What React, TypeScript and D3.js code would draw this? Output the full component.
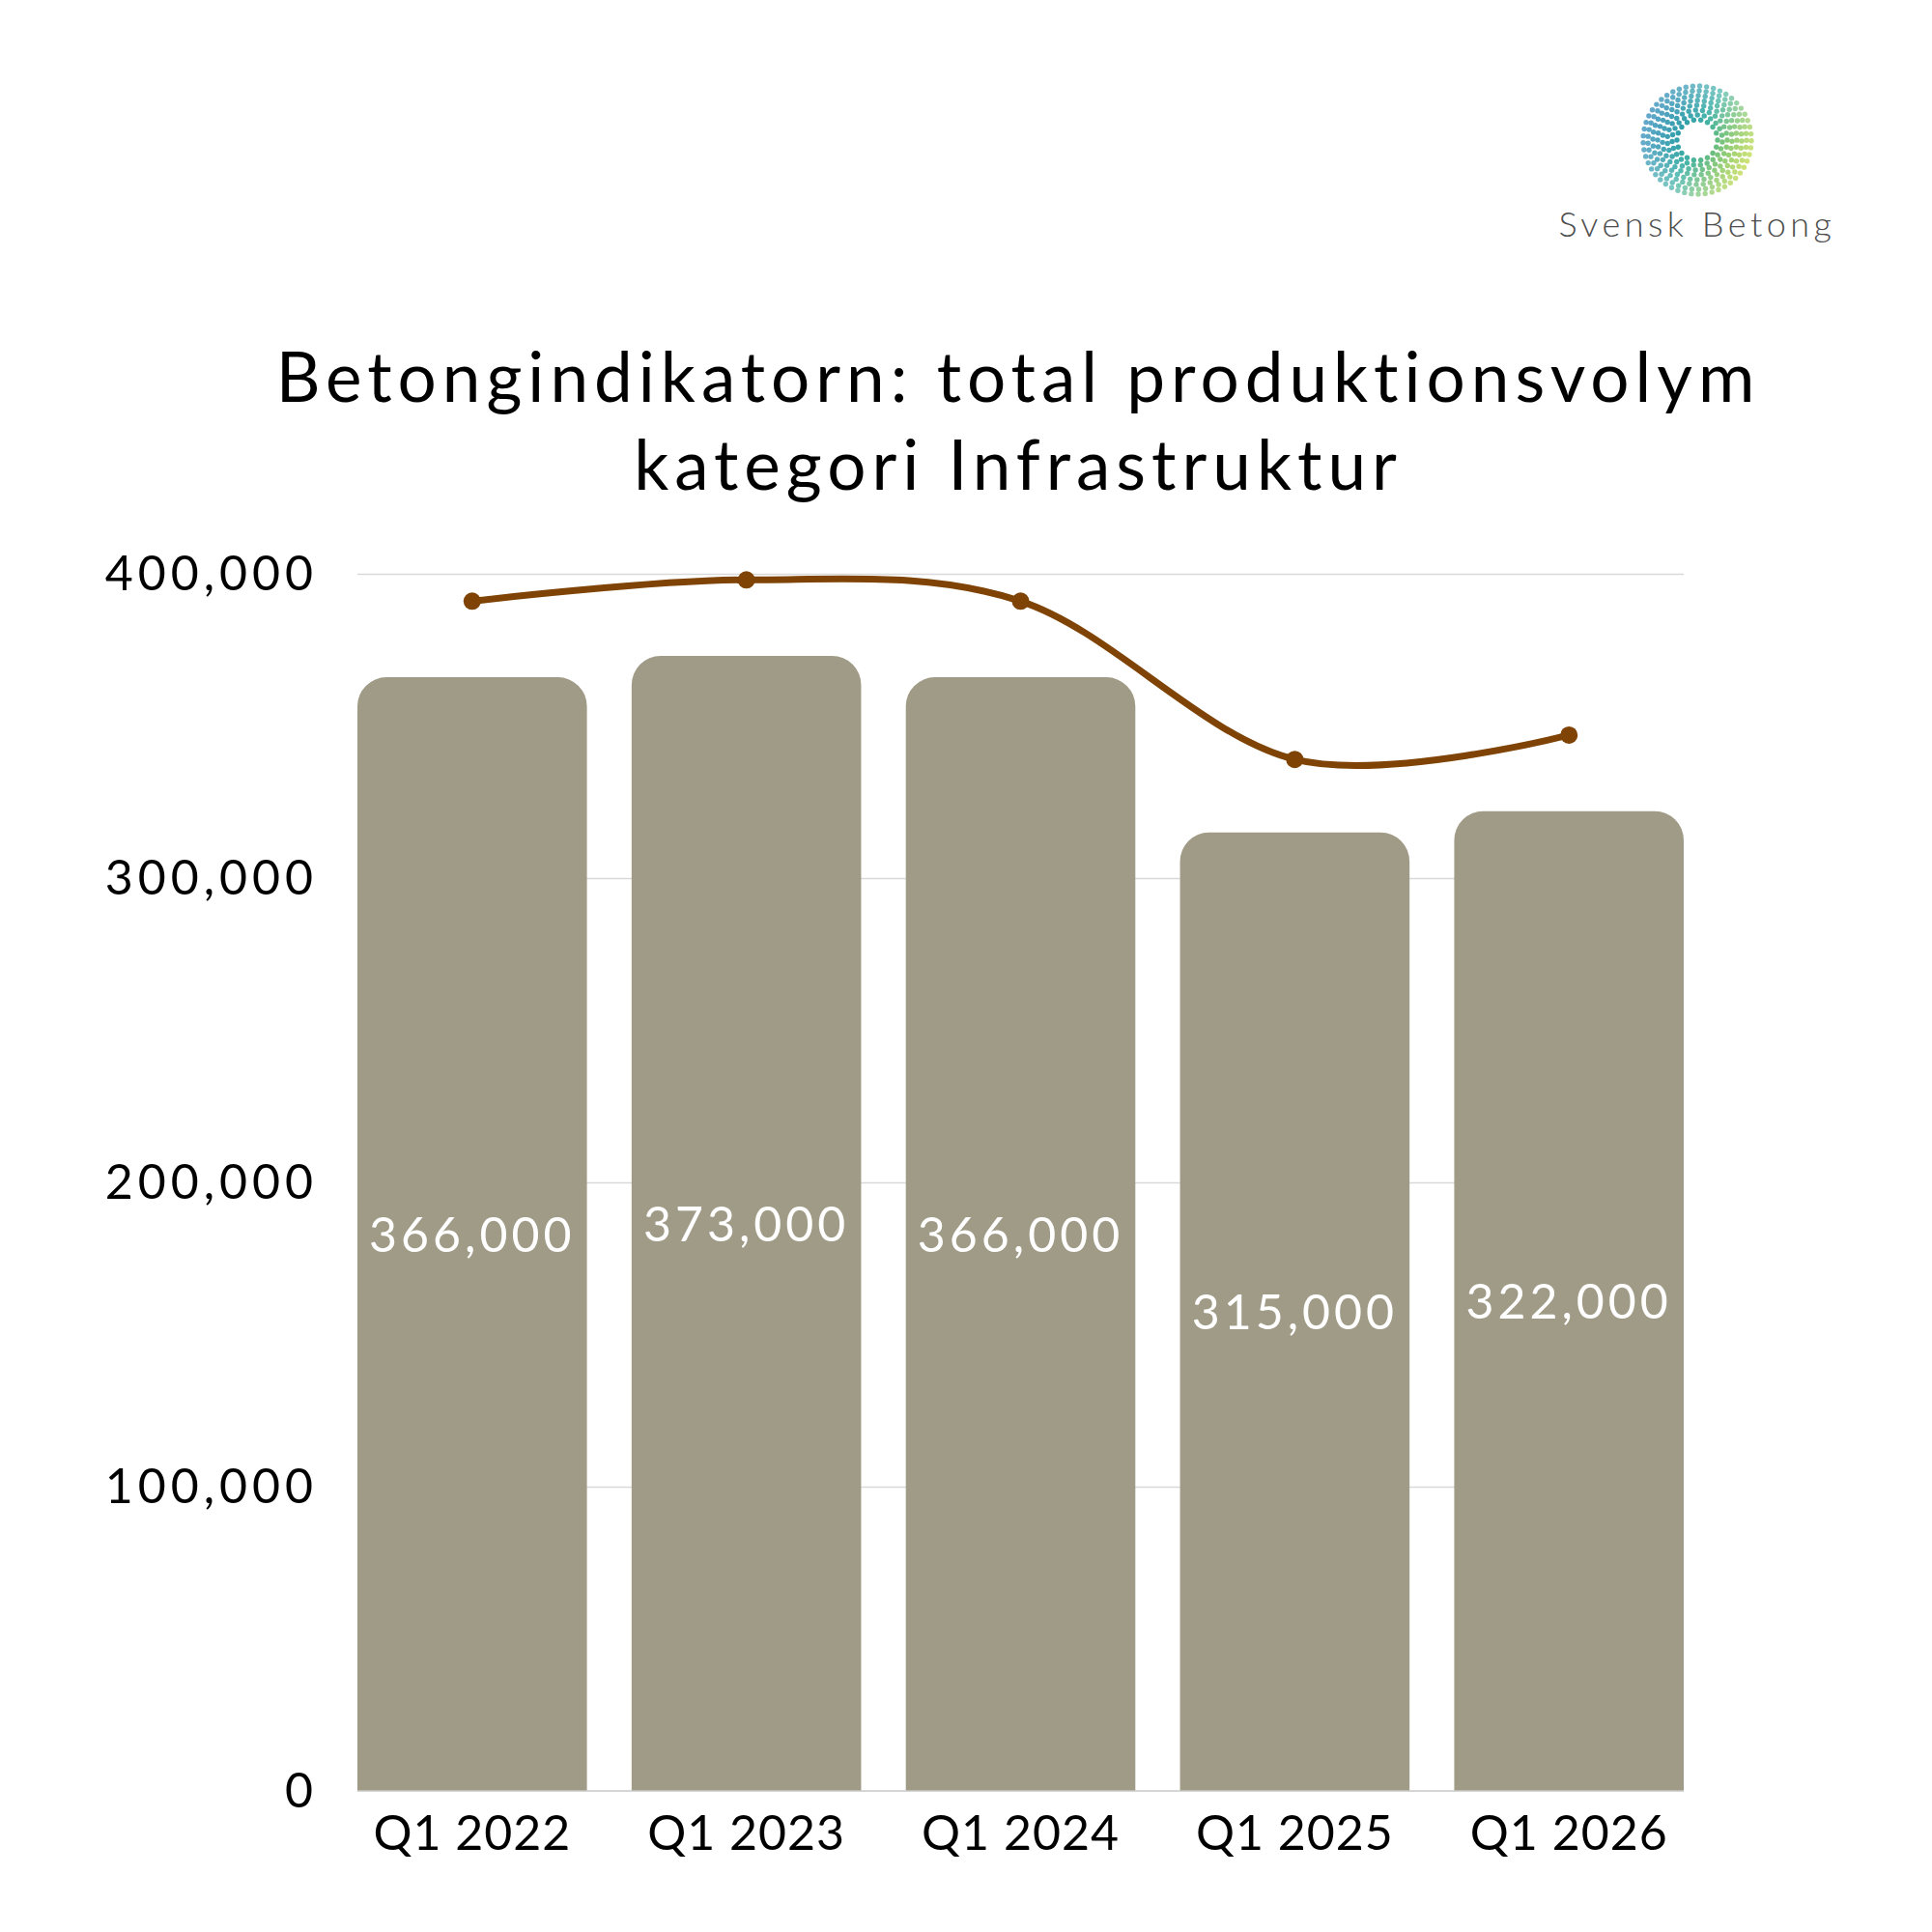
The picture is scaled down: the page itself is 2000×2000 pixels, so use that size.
import React, { useEffect, useRef } from 'react';
import * as d3 from 'd3';

// Data
const categories = ["Q1 2022", "Q1 2023", "Q1 2024", "Q1 2025", "Q1 2026"];
const barValues = [366000, 373000, 366000, 315000, 322000];
const lineValues = [391000, 398000, 391000, 339000, 347000];
const yTicks = [0, 100000, 200000, 300000, 400000];
const titleLines = ["Betongindikatorn: total produktionsvolym", "kategori Infrastruktur"];
const logoText = "Svensk Betong";

const WIDTH = 2000;
const HEIGHT = 2000;
const FONT = "Lato, 'Noto Sans', sans-serif";

export default function App() {
    const svgRef = useRef<SVGSVGElement>(null);

    useEffect(() => {
        document.body.style.margin = "0";
        if (!svgRef.current) return;

        const root = d3.select(svgRef.current);
        root.selectAll("*").remove();

        const margin = { top: 594, right: 257, bottom: 146, left: 370 };
        const chartWidth = WIDTH - margin.left - margin.right;
        const chartHeight = HEIGHT - margin.top - margin.bottom;

        root.append("rect")
            .attr("width", WIDTH)
            .attr("height", HEIGHT)
            .attr("fill", "#ffffff");

        // Title
        root.append("text")
            .attr("x", 1054)
            .attr("text-anchor", "middle")
            .style("font-family", FONT)
            .style("font-size", "71px")
            .style("letter-spacing", "6px")
            .style("fill", "#000")
            .selectAll("tspan")
            .data(titleLines)
            .enter()
            .append("tspan")
            .attr("x", 1054)
            .attr("y", (d, i) => 416 + i * 91)
            .text(d => d);

        // Logo
        const logo = root.append("g").attr("transform", "translate(1757,145)");
        const dots: { x: number, y: number, r: number }[] = [];
        const rings = d3.range(21, 58, 5);
        rings.forEach((r, ri) => {
            const n = Math.round((2 * Math.PI * r) / 7.2);
            const offset = ri * 0.35;
            for (let k = 0; k < n; k++) {
                const a = offset + (k / n) * 2 * Math.PI;
                dots.push({ x: r * Math.cos(a), y: r * Math.sin(a), r });
            }
        });
        const dirAngle = Math.PI / 7;
        const colorScale = d3.scaleLinear<string>()
            .domain([-1, 0, 1])
            .range(["#1a7fb3", "#3fb1a6", "#b6d536"])
            .interpolate(d3.interpolateRgb);
        logo.selectAll("circle")
            .data(dots)
            .enter()
            .append("circle")
            .attr("cx", d => d.x)
            .attr("cy", d => d.y)
            .attr("r", 2.7)
            .attr("fill", d => colorScale((d.x * Math.cos(dirAngle) + d.y * Math.sin(dirAngle)) / 57))
            .attr("opacity", d => 1 - (d.r - 21) / 110);
        root.append("text")
            .attr("x", 1757)
            .attr("y", 245)
            .attr("text-anchor", "middle")
            .style("font-family", FONT)
            .style("font-size", "36px")
            .style("font-weight", 300)
            .style("letter-spacing", "4.5px")
            .style("fill", "#4d4d4d")
            .text(logoText);

        const svg = root.append("g")
            .attr("transform", `translate(${margin.left},${margin.top})`);

        // Scales
        const x = d3.scaleBand()
            .domain(categories)
            .range([0, chartWidth])
            .paddingInner(0.163)
            .paddingOuter(0);

        const y = d3.scaleLinear()
            .domain([0, 400000])
            .range([chartHeight, 0]);

        // Grid
        svg.append("g")
            .call(d3.axisLeft(y).tickValues(yTicks.filter(t => t > 0)).tickSize(-chartWidth).tickFormat(() => ""))
            .call(g => g.select(".domain").remove())
            .call(g => g.selectAll("line").attr("stroke", "#d9d9d9").attr("stroke-width", 1.5));

        // Y labels
        svg.append("g")
            .call(d3.axisLeft(y).tickValues(yTicks).tickSize(0).tickPadding(41).tickFormat(d => d3.format(",")(d as number)))
            .call(g => g.select(".domain").remove())
            .call(g => g.selectAll("text")
                .style("font-family", FONT)
                .style("font-size", "50px")
                .style("letter-spacing", "5px")
                .style("fill", "#000"));

        // Bars with rounded tops
        const radius = 30;
        const barPath = (v: number, cat: string) => {
            const x0 = x(cat)!;
            const w = x.bandwidth();
            const y0 = y(v);
            const yb = y(0);
            const p = d3.path();
            p.moveTo(x0, yb);
            p.lineTo(x0, y0 + radius);
            p.arcTo(x0, y0, x0 + radius, y0, radius);
            p.lineTo(x0 + w - radius, y0);
            p.arcTo(x0 + w, y0, x0 + w, y0 + radius, radius);
            p.lineTo(x0 + w, yb);
            p.closePath();
            return p.toString();
        };
        svg.selectAll(".bar")
            .data(barValues)
            .enter()
            .append("path")
            .attr("class", "bar")
            .attr("d", (d, i) => barPath(d, categories[i]))
            .attr("fill", "#a09b87");

        // Baseline
        svg.append("line")
            .attr("x1", 0)
            .attr("x2", chartWidth)
            .attr("y1", y(0))
            .attr("y2", y(0))
            .attr("stroke", "#c8c8c8")
            .attr("stroke-width", 1.5);

        // Bar labels
        svg.selectAll(".bar-label")
            .data(barValues)
            .enter()
            .append("text")
            .attr("class", "bar-label")
            .attr("x", (d, i) => x(categories[i])! + x.bandwidth() / 2)
            .attr("y", d => (y(d) + y(0)) / 2)
            .attr("dy", "0.36em")
            .attr("text-anchor", "middle")
            .style("font-family", FONT)
            .style("font-size", "50px")
            .style("letter-spacing", "4px")
            .style("fill", "#ffffff")
            .text(d => d3.format(",")(d));

        // X labels
        svg.append("g")
            .attr("transform", `translate(0,${chartHeight})`)
            .call(d3.axisBottom(x).tickSize(0).tickPadding(0))
            .call(g => g.select(".domain").remove())
            .call(g => g.selectAll("text")
                .attr("dy", null)
                .attr("y", 61)
                .style("font-family", FONT)
                .style("font-size", "50px")
                .style("letter-spacing", "1px")
                .style("fill", "#000"));

        // Line
        const linePoints = lineValues.map((v, i) => ({ x: x(categories[i])! + x.bandwidth() / 2, y: y(v) }));
        const line = d3.line<{ x: number, y: number }>()
            .x(d => d.x)
            .y(d => d.y)
            .curve(d3.curveCardinal.tension(0));
        svg.append("path")
            .datum(linePoints)
            .attr("d", line)
            .attr("fill", "none")
            .attr("stroke", "#7e4305")
            .attr("stroke-width", 7);
        svg.selectAll(".dot")
            .data(linePoints)
            .enter()
            .append("circle")
            .attr("class", "dot")
            .attr("cx", d => d.x)
            .attr("cy", d => d.y)
            .attr("r", 9)
            .attr("fill", "#7e4305");
    }, []);

    return <svg ref={svgRef} width={WIDTH} height={HEIGHT} style={{ display: "block" }} />;
}
